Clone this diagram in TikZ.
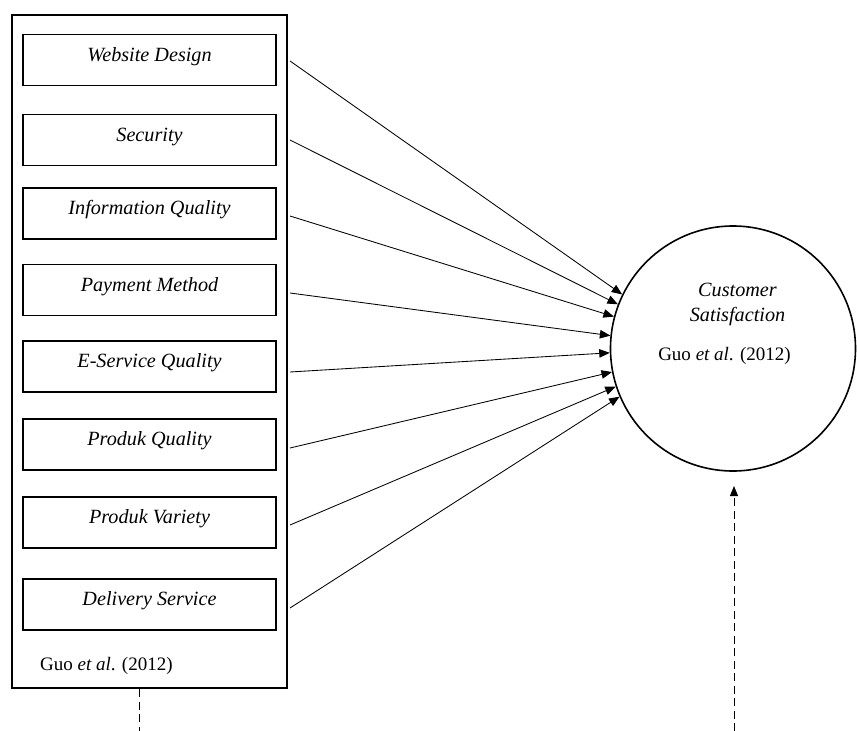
\documentclass[tikz,border=0pt]{standalone}
\usepackage{fontspec}
\setmainfont{Liberation Serif}
\usetikzlibrary{arrows.meta}
\begin{document}
\begin{tikzpicture}[x=1pt,y=-1pt,
  txt/.style={font=\fontsize{19}{23}\selectfont},
  ittxt/.style={font=\fontsize{20.2}{24}\selectfont\itshape},
  boxstyle/.style={draw, line width=1.6pt, minimum width=253pt, minimum height=51pt,
    inner sep=0pt, ittxt, text height=13pt, text depth=11pt},
  outerbox/.style={draw, line width=1.6pt, minimum width=275pt, minimum height=673pt, inner sep=0pt},
  satcircle/.style={draw, circle, line width=1.6pt, minimum size=245pt, inner sep=0pt},
  link/.style={line width=0.85pt, -{Triangle[length=10.5pt,width=8.5pt]}},
  dashlink/.style={line width=0.9pt, dash pattern=on 8pt off 4.5pt}
]
\useasboundingbox (0,0) rectangle (857,731);

% outer frame
\node[outerbox] (outer) at (149.5,351.5) {};

% factor boxes
\node[boxstyle] (b1) at (149.5,60)    {Website Design};
\node[boxstyle] (b2) at (149.5,140)   {Security};
\node[boxstyle] (b3) at (149.5,213.5) {Information Quality};
\node[boxstyle] (b4) at (149.5,290)   {Payment Method};
\node[boxstyle] (b5) at (149.5,366.5) {E-Service Quality};
\node[boxstyle] (b6) at (149.5,444.5) {Produk Quality};
\node[boxstyle] (b7) at (149.5,522.5) {Produk Variety};
\node[boxstyle] (b8) at (149.5,604.5) {Delivery Service};

\node[txt, anchor=base west, inner sep=0pt] (cite1) at (40,670) {Guo \textit{et al}. (2012)};

% satisfaction circle
\node[satcircle] (cs) at (733,348.5) {};
\node[ittxt, anchor=base, inner sep=0pt] (cs1) at (737.5,296) {Customer};
\node[ittxt, anchor=base, inner sep=0pt] (cs2) at (737.5,321) {Satisfaction};
\node[txt, anchor=base, inner sep=0pt] (cite2) at (724.5,360) {Guo \textit{et al}. (2012)};

% arrow start points
\coordinate (s1) at (290,61);
\coordinate (s2) at (290,140);
\coordinate (s3) at (290,216);
\coordinate (s4) at (290,293);
\coordinate (s5) at (290,372);
\coordinate (s6) at (290,448);
\coordinate (s7) at (290,525);
\coordinate (s8) at (290,608);

\draw[link] (s1) -- (cs.154.9);
\draw[link] (s2) -- (cs.159.8);
\draw[link] (s3) -- (cs.165.9);
\draw[link] (s4) -- (cs.174.7);
\draw[link] (s5) -- (cs.182);
\draw[link] (s6) -- (cs.191.1);
\draw[link] (s7) -- (cs.198.1);
\draw[link] (s8) -- (cs.203.9);

% dashed lines
\coordinate (lt) at (139,689);
\coordinate (lb) at (139,731);
\draw[dashlink] (lt) -- (lb);

\coordinate (rb) at (734,731);
\coordinate (rt) at (734,486);
\draw[dashlink, -{Triangle[length=10pt,width=8pt]}] (rb) -- (rt);
\end{tikzpicture}
\end{document}
